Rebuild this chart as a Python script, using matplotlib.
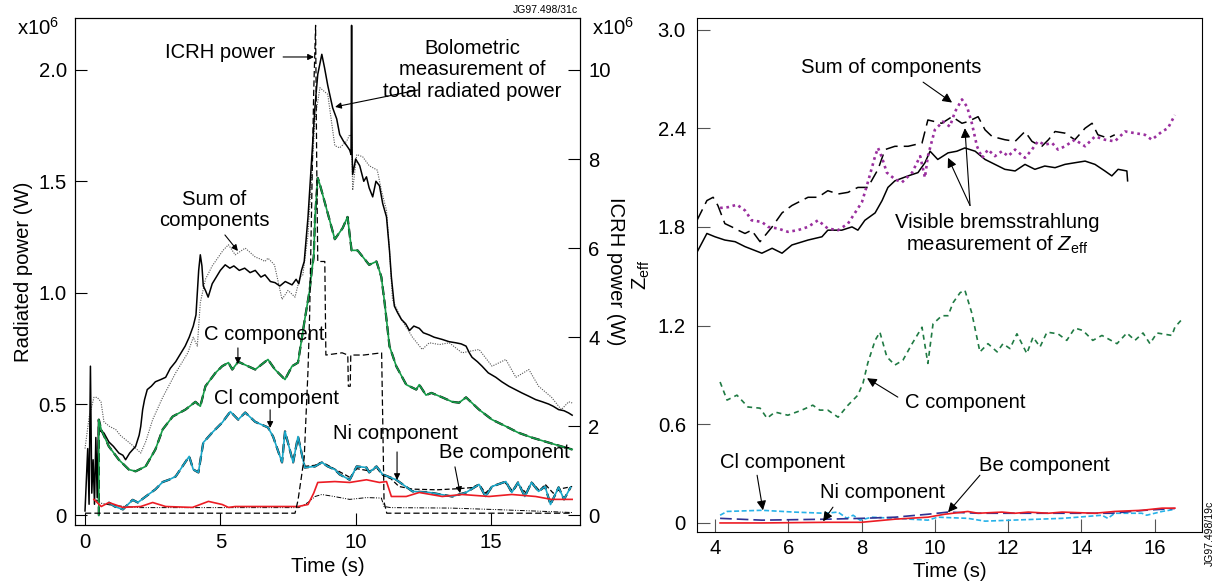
import numpy as np
import matplotlib
matplotlib.use('Agg')
import matplotlib.pyplot as plt

plt.rcParams['font.family'] = ['Liberation Sans', 'DejaVu Sans']
plt.rcParams['mathtext.fontset'] = 'custom'
plt.rcParams['mathtext.rm'] = 'Liberation Sans'
plt.rcParams['mathtext.it'] = 'Liberation Sans:italic'

# ---- left panel data: time (s), power (x1e6 W) ----
bolo = np.array([
    (0.0, 0.02), (0.1, 0.30), (0.15, 0.05), (0.2, 0.67), (0.25, 0.10), (0.3, 0.25), (0.35, 0.05),
    (0.4, 0.35), (0.45, 0.08), (0.5, 0.43), (0.55, 0.38), (0.7, 0.37), (0.88, 0.33), (1.05, 0.31),
    (1.25, 0.28), (1.4, 0.27), (1.5, 0.25), (1.65, 0.28), (1.87, 0.31), (2.0, 0.36), (2.06, 0.40),
    (2.13, 0.475), (2.2, 0.52), (2.3, 0.565), (2.45, 0.58), (2.6, 0.60), (2.8, 0.61), (2.98, 0.62),
    (3.15, 0.66), (3.35, 0.69), (3.5, 0.72), (3.7, 0.76), (3.85, 0.80), (4.0, 0.85), (4.1, 0.90),
    (4.2, 1.10), (4.26, 1.17), (4.32, 1.12), (4.37, 1.03), (4.45, 1.01), (4.55, 0.98), (4.7, 1.04),
    (4.85, 1.07), (5.0, 1.10), (5.18, 1.125), (5.35, 1.11), (5.5, 1.12), (5.7, 1.10), (5.9, 1.11),
    (6.1, 1.09), (6.29, 1.10), (6.5, 1.07), (6.65, 1.08), (6.85, 1.05), (7.02, 1.045), (7.2, 1.03),
    (7.4, 1.05), (7.65, 1.035), (7.8, 1.06), (7.9, 1.04), (8.0, 1.10), (8.1, 1.14), (8.24, 1.34),
    (8.38, 1.61), (8.5, 1.84), (8.6, 1.98), (8.75, 2.07), (8.85, 2.01), (8.97, 1.93), (9.15, 1.83),
    (9.3, 1.78), (9.41, 1.71), (9.55, 1.68), (9.67, 1.66), (9.78, 1.64), (9.83, 1.62), (9.85, 2.20),
    (9.87, 1.62), (9.89, 1.53), (10.0, 1.60), (10.15, 1.57), (10.3, 1.50), (10.4, 1.52), (10.5, 1.47),
    (10.63, 1.43), (10.75, 1.50), (10.88, 1.48), (11.0, 1.40), (11.14, 1.34), (11.25, 1.19),
    (11.32, 1.07), (11.43, 0.94), (11.55, 0.91), (11.69, 0.88), (11.85, 0.86), (11.99, 0.83),
    (12.15, 0.85), (12.35, 0.84), (12.5, 0.82), (12.72, 0.81), (12.9, 0.80), (13.2, 0.79),
    (13.45, 0.78), (13.7, 0.775), (13.9, 0.77), (14.08, 0.76), (14.2, 0.73), (14.3, 0.71),
    (14.5, 0.69), (14.67, 0.67), (14.9, 0.64), (15.18, 0.62), (15.4, 0.60), (15.66, 0.58),
    (15.9, 0.565), (16.14, 0.55), (16.4, 0.535), (16.65, 0.52), (16.9, 0.51), (17.13, 0.50),
    (17.3, 0.49), (17.5, 0.475), (17.7, 0.47), (17.87, 0.46), (18.0, 0.45)])

sum_left = np.array([
    (0.0, 0.30), (0.15, 0.44), (0.33, 0.53), (0.45, 0.53), (0.59, 0.51), (0.7, 0.42), (0.9, 0.40),
    (1.14, 0.385), (1.3, 0.36), (1.5, 0.34), (1.8, 0.31), (2.06, 0.28), (2.24, 0.33), (2.5, 0.43),
    (2.87, 0.53), (3.35, 0.64), (3.8, 0.73), (4.0, 0.80), (4.15, 0.76), (4.26, 0.955), (4.45, 1.06),
    (4.7, 1.12), (4.93, 1.16), (5.1, 1.19), (5.3, 1.215), (5.55, 1.17), (5.92, 1.20), (6.29, 1.16),
    (6.5, 1.15), (6.65, 1.14), (6.76, 1.155), (7.0, 1.125), (7.28, 0.97), (7.5, 1.01), (7.76, 0.98),
    (7.94, 1.07), (8.05, 1.08), (8.24, 1.26), (8.5, 1.78), (8.68, 1.92), (8.97, 1.89), (9.23, 1.66),
    (9.41, 1.65), (9.67, 1.68), (9.78, 1.71), (9.85, 1.70), (9.89, 1.46), (10.04, 1.62), (10.26, 1.61),
    (10.5, 1.57), (10.8, 1.55), (10.95, 1.46), (11.14, 1.37), (11.25, 1.19), (11.36, 0.97),
    (11.69, 0.88), (12.1, 0.80), (12.46, 0.745), (12.72, 0.775), (13.1, 0.767), (13.46, 0.775),
    (13.93, 0.73), (14.56, 0.745), (15.04, 0.67), (15.55, 0.70), (15.92, 0.62), (16.4, 0.655),
    (16.76, 0.58), (17.24, 0.53), (17.6, 0.475), (17.87, 0.51), (18.0, 0.505)])

# ICRH power, right axis units (x1e6 W)
icrh = np.array([
    (0.0, 0.05), (7.76, 0.05), (7.87, 0.34), (8.1, 1.3), (8.24, 3.26), (8.3, 4.5), (8.45, 9.5),
    (8.52, 11.0), (8.56, 8.0), (8.6, 5.7), (8.86, 5.7), (8.9, 3.6), (9.5, 3.65), (9.71, 3.6),
    (9.73, 2.9), (9.8, 2.9), (9.82, 3.6), (10.3, 3.6), (10.96, 3.65), (11.05, 0.3), (11.15, 0.05),
    (18.0, 0.05)])

other_left = np.array([
    (0.4, 0.07), (0.6, 0.055), (1.0, 0.045), (2.0, 0.035), (5.0, 0.035), (7.9, 0.035), (8.24, 0.058),
    (8.5, 0.085), (8.75, 0.094), (9.2, 0.085), (9.78, 0.072), (10.4, 0.08), (10.95, 0.078),
    (11.05, 0.04), (11.3, 0.035), (13.5, 0.033), (15.0, 0.027), (17.0, 0.018), (18.0, 0.013)])

c_left = np.array([
    (0.51, 0.0), (0.51, 0.43), (0.6, 0.385), (0.88, 0.31), (1.25, 0.25), (1.62, 0.206), (1.87, 0.198),
    (2.24, 0.22), (2.6, 0.296), (2.87, 0.386), (3.24, 0.444), (3.71, 0.475), (4.08, 0.51),
    (4.26, 0.49), (4.45, 0.58), (4.82, 0.64), (5.07, 0.67), (5.3, 0.686), (5.44, 0.655), (5.66, 0.69),
    (6.29, 0.655), (6.76, 0.70), (7.02, 0.655), (7.39, 0.61), (7.65, 0.67), (7.87, 0.686),
    (8.12, 0.88), (8.3, 1.01), (8.38, 1.10), (8.45, 1.16), (8.5, 1.34), (8.6, 1.515), (8.68, 1.485),
    (9.23, 1.24), (9.52, 1.29), (9.7, 1.34), (9.85, 1.19), (10.07, 1.19), (10.5, 1.125),
    (10.77, 1.14), (10.95, 1.07), (11.07, 0.955), (11.25, 0.76), (11.5, 0.67), (11.87, 0.587),
    (12.24, 0.565), (12.35, 0.587), (12.6, 0.54), (12.8, 0.55), (13.2, 0.53), (13.57, 0.51),
    (13.82, 0.506), (14.08, 0.53), (14.56, 0.475), (15.04, 0.43), (15.55, 0.40), (16.0, 0.372),
    (16.5, 0.35), (17.13, 0.327), (17.6, 0.31), (18.0, 0.296)])

cl_left = np.array([
    (0.88, 0.058), (1.1, 0.04), (1.4, 0.027), (1.76, 0.07), (1.95, 0.058), (2.3, 0.09), (2.6, 0.117),
    (2.87, 0.15), (3.1, 0.16), (3.35, 0.175), (3.71, 0.24), (3.85, 0.265), (4.0, 0.206),
    (4.19, 0.193), (4.37, 0.327), (4.7, 0.372), (5.07, 0.417), (5.37, 0.466), (5.66, 0.43),
    (5.92, 0.462), (6.29, 0.42), (6.76, 0.395), (6.95, 0.354), (7.28, 0.238), (7.39, 0.377),
    (7.69, 0.238), (7.87, 0.354), (8.12, 0.215), (8.5, 0.22), (8.75, 0.238), (8.97, 0.22),
    (9.23, 0.206), (9.41, 0.184), (9.78, 0.16), (10.04, 0.22), (10.4, 0.215), (10.5, 0.193),
    (10.77, 0.22), (11.0, 0.184), (11.5, 0.16), (12.1, 0.108), (12.72, 0.103), (13.57, 0.085),
    (14.08, 0.103), (14.56, 0.139), (14.8, 0.085), (15.04, 0.13), (15.55, 0.152), (15.77, 0.103),
    (16.0, 0.148), (16.25, 0.085), (16.5, 0.148), (16.76, 0.108), (17.0, 0.13), (17.2, 0.049),
    (17.5, 0.126), (17.7, 0.072), (17.94, 0.126)])

ni_left = np.array([
    (8.1, 0.22), (8.5, 0.225), (8.75, 0.24), (9.2, 0.21), (9.8, 0.17), (10.04, 0.21), (10.5, 0.2),
    (10.8, 0.21), (11.0, 0.18), (11.3, 0.165), (11.6, 0.13), (12.1, 0.118), (13.0, 0.115),
    (13.8, 0.12), (14.3, 0.125), (14.56, 0.14), (14.8, 0.1), (15.04, 0.13), (15.5, 0.15),
    (15.8, 0.11), (16.0, 0.14), (16.3, 0.1), (16.5, 0.15), (16.8, 0.11), (17.0, 0.14), (17.3, 0.1),
    (17.6, 0.12), (18.0, 0.13)])

be_left = np.array([
    (0.33, 0.072), (0.6, 0.04), (0.88, 0.058), (1.4, 0.036), (2.06, 0.04), (2.5, 0.058), (2.98, 0.04),
    (3.97, 0.036), (4.56, 0.063), (5.07, 0.049), (5.3, 0.036), (5.55, 0.04), (7.02, 0.04),
    (7.87, 0.04), (8.24, 0.049), (8.45, 0.10), (8.6, 0.148), (9.23, 0.152), (9.78, 0.148),
    (10.4, 0.16), (10.88, 0.148), (11.14, 0.152), (11.32, 0.085), (11.87, 0.085), (12.35, 0.103),
    (13.2, 0.085), (13.93, 0.094), (14.93, 0.085), (15.77, 0.094), (16.65, 0.085), (17.24, 0.072),
    (18.0, 0.072)])

# ---- right panel data: time (s), Zeff ----
zeff_solid = np.array([
    (3.51, 1.646), (3.78, 1.76), (4.0, 1.74), (4.27, 1.72), (4.55, 1.71), (4.82, 1.68), (5.05, 1.66),
    (5.28, 1.64), (5.56, 1.67), (5.83, 1.64), (6.1, 1.69), (6.54, 1.72), (6.92, 1.74), (7.08, 1.78),
    (7.46, 1.78), (7.74, 1.80), (7.9, 1.78), (8.09, 1.84), (8.37, 1.885), (8.56, 1.96), (8.72, 2.04),
    (8.91, 2.08), (9.27, 2.11), (9.54, 2.13), (9.73, 2.19), (9.87, 2.26), (10.08, 2.21),
    (10.36, 2.25), (10.6, 2.26), (10.82, 2.28), (11.1, 2.26), (11.37, 2.21), (11.64, 2.18),
    (11.91, 2.15), (12.19, 2.14), (12.46, 2.18), (12.73, 2.15), (13.0, 2.17), (13.28, 2.16),
    (13.55, 2.18), (13.82, 2.19), (14.1, 2.20), (14.37, 2.18), (14.64, 2.14), (14.83, 2.11),
    (15.0, 2.15), (15.24, 2.14), (15.26, 2.08)])

zeff_dash = np.array([
    (3.51, 1.84), (3.78, 1.96), (3.95, 1.98), (4.08, 1.93), (4.27, 1.82), (4.46, 1.80), (4.63, 1.78),
    (4.82, 1.76), (5.0, 1.78), (5.23, 1.71), (5.56, 1.80), (5.83, 1.885), (6.1, 1.93), (6.54, 1.98),
    (6.81, 1.98), (7.08, 2.02), (7.36, 2.0), (7.63, 2.01), (7.9, 2.04), (8.17, 2.04), (8.45, 2.15),
    (8.64, 2.27), (8.91, 2.29), (9.27, 2.29), (9.65, 2.31), (9.81, 2.45), (10.19, 2.43),
    (10.47, 2.47), (10.74, 2.43), (10.9, 2.44), (11.18, 2.47), (11.37, 2.39), (11.56, 2.35),
    (11.91, 2.33), (12.19, 2.32), (12.46, 2.38), (12.65, 2.32), (12.81, 2.30), (12.92, 2.29),
    (13.1, 2.33), (13.28, 2.38), (13.55, 2.37), (13.82, 2.33), (14.1, 2.40), (14.29, 2.43),
    (14.45, 2.36), (14.72, 2.34), (14.91, 2.36)])

zeff_sum = np.array([
    (4.14, 1.915), (4.36, 1.92), (4.6, 1.935), (4.82, 1.90), (5.0, 1.84), (5.28, 1.83), (5.45, 1.80),
    (5.72, 1.79), (5.99, 1.77), (6.26, 1.78), (6.54, 1.80), (6.81, 1.84), (7.08, 1.79), (7.36, 1.78),
    (7.63, 1.82), (7.82, 1.885), (8.01, 1.95), (8.17, 2.07), (8.37, 2.23), (8.45, 2.28),
    (8.56, 2.22), (8.69, 2.13), (8.91, 2.09), (9.1, 2.07), (9.38, 2.13), (9.6, 2.23), (9.73, 2.10),
    (9.81, 2.23), (10.0, 2.39), (10.22, 2.44), (10.41, 2.41), (10.55, 2.50), (10.74, 2.575),
    (10.88, 2.53), (11.01, 2.43), (11.15, 2.29), (11.29, 2.22), (11.45, 2.27), (11.64, 2.23),
    (11.83, 2.26), (12.0, 2.23), (12.19, 2.27), (12.46, 2.22), (12.65, 2.27), (12.81, 2.32),
    (13.0, 2.30), (13.2, 2.31), (13.36, 2.27), (13.55, 2.29), (13.82, 2.33), (14.1, 2.29),
    (14.37, 2.35), (14.64, 2.33), (14.91, 2.32), (15.19, 2.38), (15.46, 2.37), (15.73, 2.36),
    (15.92, 2.33), (16.2, 2.38), (16.36, 2.40), (16.55, 2.48)])

c_right = np.array([
    (4.14, 0.857), (4.33, 0.747), (4.6, 0.777), (4.9, 0.705), (5.23, 0.698), (5.42, 0.637),
    (5.64, 0.674), (5.99, 0.655), (6.37, 0.686), (6.67, 0.716), (6.86, 0.686), (7.08, 0.686),
    (7.36, 0.643), (7.63, 0.716), (7.9, 0.777), (8.04, 0.85), (8.17, 0.972), (8.37, 1.11),
    (8.5, 1.16), (8.69, 1.01), (8.91, 0.96), (9.13, 0.99), (9.38, 1.09), (9.65, 1.19), (9.81, 0.97),
    (9.95, 1.21), (10.19, 1.26), (10.36, 1.26), (10.5, 1.34), (10.69, 1.40), (10.82, 1.415),
    (11.01, 1.275), (11.23, 1.04), (11.45, 1.09), (11.7, 1.04), (11.86, 1.09), (12.05, 1.06),
    (12.24, 1.15), (12.51, 1.03), (12.68, 1.13), (12.87, 1.07), (13.06, 1.16), (13.36, 1.15),
    (13.6, 1.11), (13.82, 1.185), (14.04, 1.17), (14.31, 1.11), (14.56, 1.14), (14.97, 1.09),
    (15.24, 1.155), (15.46, 1.11), (15.68, 1.155), (15.87, 1.09), (16.06, 1.155), (16.47, 1.14),
    (16.55, 1.19), (16.77, 1.245)])

cl_right = np.array([
    (4.14, 0.047), (4.33, 0.07), (5.28, 0.077), (6.16, 0.066), (7.0, 0.059), (7.36, 0.066),
    (7.6, 0.028), (7.77, 0.047), (7.96, 0.017), (8.28, 0.035), (8.91, 0.028), (9.81, 0.017),
    (10.08, 0.035), (10.9, 0.028), (11.37, 0.011), (12.1, 0.017), (13.47, 0.028), (13.9, 0.035),
    (14.56, 0.047), (14.72, 0.028), (14.91, 0.059), (15.65, 0.059), (15.78, 0.047), (16.2, 0.07),
    (16.55, 0.083)])

ni_right = np.array([
    (4.14, 0.028), (5.28, 0.017), (7.08, 0.023), (8.0, 0.028), (8.91, 0.035), (9.81, 0.053),
    (10.36, 0.066), (11.18, 0.059), (12.55, 0.059), (13.47, 0.059), (14.83, 0.059), (15.73, 0.077),
    (16.55, 0.088)])

be_right = np.array([
    (4.14, 0.0), (5.28, 0.0), (7.08, 0.004), (8.0, 0.004), (8.91, 0.023), (9.81, 0.035),
    (10.27, 0.053), (10.9, 0.07), (11.18, 0.059), (11.83, 0.066), (12.19, 0.059), (12.55, 0.066),
    (13.1, 0.059), (13.47, 0.066), (14.37, 0.059), (14.91, 0.07), (15.65, 0.077), (16.2, 0.09),
    (16.55, 0.09)])

left_yticks = [0, 0.5, 1.0, 1.5, 2.0]
left_yticklabels = ['0', '0.5', '1.0', '1.5', '2.0']
icrh_ticks = [0, 2, 4, 6, 8, 10]
left_xticks = [0, 5, 10, 15]
right_yticks = [0, 0.6, 1.2, 1.8, 2.4, 3.0]
right_yticklabels = ['0', '0.6', '1.2', '1.8', '2.4', '3.0']
right_xticks = [4, 6, 8, 10, 12, 14, 16]

GREEN = '#159c48'
CYAN = '#1aa7c9'
RED = '#ec1c24'
PURPLE = '#9a2f9e'
DKGREEN = '#1f7a43'
LTBLUE = '#27b2e8'
NAVY = '#2e3192'
FS = 14.6

W, H = 1218, 587
fig = plt.figure(figsize=(W / 100, H / 100), dpi=100)

# ================= left panel =================
ax = fig.add_axes([75 / W, 1 - 525 / H, 505 / W, 507 / H])
ax2 = ax.twinx()
ylo, yhi = -0.043, 2.233
ax.set_xlim(-0.37, 18.29)
ax.set_ylim(ylo, yhi)
ax2.set_ylim(ylo * 5, yhi * 5)

ax.plot(sum_left[:, 0], sum_left[:, 1], color='#555555', ls=(0, (1, 1.2)), lw=0.8)
ax.plot(bolo[:, 0], bolo[:, 1], color='k', lw=1.1)
ax2.plot(icrh[:, 0], icrh[:, 1], color='k', ls=(0, (5, 2.5)), lw=0.9)
ax.plot(other_left[:, 0], other_left[:, 1], color='k', ls=(0, (5, 1.5, 1, 1.5, 1, 1.5)), lw=0.7)
ax.plot(c_left[:, 0], c_left[:, 1], color='k', ls=(0, (4, 2)), lw=1.6)
ax.plot(c_left[:, 0], c_left[:, 1], color=GREEN, lw=1.2)
ax.plot(ni_left[:, 0], ni_left[:, 1], color='k', ls=(0, (4, 2)), lw=0.9)
ax.plot(cl_left[:, 0], cl_left[:, 1], color='k', ls=(0, (4, 2)), lw=1.6)
ax.plot(cl_left[:, 0], cl_left[:, 1], color=CYAN, lw=1.2)
ax.plot(be_left[:, 0], be_left[:, 1], color=RED, lw=1.2)

for a in (ax, ax2):
    a.tick_params(direction='in', length=8.5, width=0.8, labelsize=FS, pad=6)
ax.set_xticks(left_xticks)
ax.set_yticks(left_yticks)
ax.set_yticklabels(left_yticklabels)
ax2.set_yticks(icrh_ticks)
ax.set_xlabel('Time (s)', fontsize=FS, labelpad=3)
ax.set_ylabel('Radiated power (W)', fontsize=FS, labelpad=4)
ax2.set_ylabel('ICRH power (W)', fontsize=FS, rotation=270, labelpad=10)

arw = dict(arrowstyle='-|>', color='k', lw=0.8, mutation_scale=9, shrinkA=0, shrinkB=0)
ax.text(4.99, 2.076, 'ICRH power', fontsize=FS, ha='center', va='center')
ax.annotate('', xy=(8.46, 2.058), xytext=(7.32, 2.058), arrowprops=arw)
ax.text(14.3, 2.0, 'Bolometric\nmeasurement of\ntotal radiated power', fontsize=FS,
        ha='center', va='center', linespacing=1.15)
ax.annotate('', xy=(9.24, 1.834), xytext=(12.31, 1.91), arrowprops=arw)
ax.text(4.77, 1.372, 'Sum of\ncomponents', fontsize=FS, ha='center', va='center', linespacing=1.15)
ax.annotate('', xy=(5.65, 1.187), xytext=(5.17, 1.259), arrowprops=arw)
ax.text(6.61, 0.81, 'C component', fontsize=FS, ha='center', va='center')
ax.annotate('', xy=(5.65, 0.68), xytext=(5.65, 0.752), arrowprops=arw)
ax.text(7.06, 0.527, 'Cl component', fontsize=FS, ha='center', va='center')
ax.annotate('', xy=(6.84, 0.393), xytext=(6.84, 0.474), arrowprops=arw)
ax.text(11.46, 0.37, 'Ni component', fontsize=FS, ha='center', va='center')
ax.annotate('', xy=(11.53, 0.159), xytext=(11.53, 0.285), arrowprops=arw)
ax.text(15.48, 0.281, 'Be component', fontsize=FS, ha='center', va='center')
ax.annotate('', xy=(13.86, 0.10), xytext=(13.67, 0.218), arrowprops=arw)

fig.text(38 / W, 1 - 28 / H, 'x10$^6$', fontsize=FS, ha='center', va='center')
fig.text(613 / W, 1 - 28 / H, 'x10$^6$', fontsize=FS, ha='center', va='center')
fig.text(578 / W, 1 - 10 / H, 'JG97.498/31c', fontsize=7.5, ha='right', va='center')

# ================= right panel =================
bx = fig.add_axes([697 / W, 1 - 532 / H, 505 / W, 514 / H])
bx.set_xlim(3.51, 17.29)
bx.set_ylim(-0.055, 3.07)

bx.plot(zeff_solid[:, 0], zeff_solid[:, 1], color='k', lw=1.1)
bx.plot(zeff_dash[:, 0], zeff_dash[:, 1], color='k', ls=(0, (8, 4)), lw=1.1)
bx.plot(zeff_sum[:, 0], zeff_sum[:, 1], color=PURPLE, ls=(0, (1, 1.4)), lw=1.9)
bx.plot(c_right[:, 0], c_right[:, 1], color=DKGREEN, ls=(0, (3, 2.5)), lw=1.2)
bx.plot(cl_right[:, 0], cl_right[:, 1], color=LTBLUE, ls=(0, (3, 1.5)), lw=1.2)
bx.plot(ni_right[:, 0], ni_right[:, 1], color=NAVY, ls=(0, (7, 3)), lw=1.2)
bx.plot(be_right[:, 0], be_right[:, 1], color=RED, lw=1.2)

bx.tick_params(direction='in', length=9.5, width=0.8, labelsize=FS, pad=8, color='#555555')
bx.tick_params(axis='x', pad=5)
bx.set_xticks(right_xticks)
bx.set_yticks(right_yticks)
bx.set_yticklabels(right_yticklabels)
bx.set_xlabel('Time (s)', fontsize=FS, labelpad=3)
bx.set_ylabel('Z$_{\\rm eff}$', fontsize=FS, labelpad=4)

arw2 = dict(arrowstyle='-|>', color='k', lw=0.8, mutation_scale=14, shrinkA=0, shrinkB=0)
bx.text(8.8, 2.768, 'Sum of components', fontsize=FS, ha='center', va='center')
bx.annotate('', xy=(10.47, 2.556), xytext=(9.68, 2.68), arrowprops=arw2)
bx.text(11.69, 1.755, 'Visible bremsstrahlung\nmeasurement of $Z_{\\rm eff}$', fontsize=FS,
        ha='center', va='center', linespacing=1.12)
bx.annotate('', xy=(10.36, 2.22), xytext=(10.96, 1.93), arrowprops=arw2)
bx.annotate('', xy=(10.82, 2.40), xytext=(10.96, 1.93), arrowprops=arw2)
bx.text(10.82, 0.735, 'C component', fontsize=FS, ha='center', va='center')
bx.annotate('', xy=(8.15, 0.88), xytext=(8.99, 0.765), arrowprops=arw2)
bx.text(5.83, 0.369, 'Cl component', fontsize=FS, ha='center', va='center')
bx.annotate('', xy=(5.31, 0.077), xytext=(5.15, 0.29), arrowprops=arw2)
bx.text(8.58, 0.187, 'Ni component', fontsize=FS, ha='center', va='center')
bx.annotate('', xy=(6.95, 0.01), xytext=(7.22, 0.096), arrowprops=arw2)
bx.text(13.0, 0.352, 'Be component', fontsize=FS, ha='center', va='center')
bx.annotate('', xy=(10.36, 0.065), xytext=(11.23, 0.29), arrowprops=arw2)

fig.text(1210 / W, 1 - 533 / H, 'JG97.498/19c', fontsize=7.5, rotation=90,
         ha='center', va='center')

fig.savefig('out.png', dpi=100)
